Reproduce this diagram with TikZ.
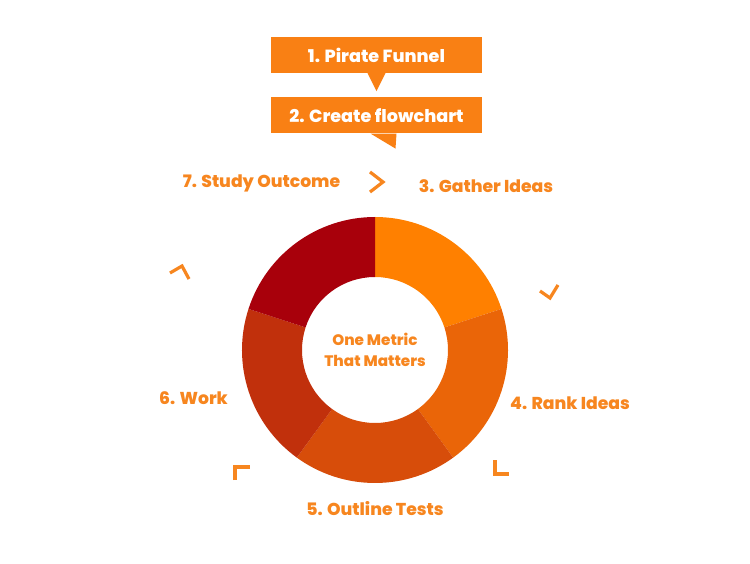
\documentclass[tikz,border=0pt]{standalone}
\usepackage{fontspec}
\setmainfont{Poppins}[BoldFont={Poppins ExtraBold}]
\usetikzlibrary{calc,positioning}
\definecolor{boxorange}{HTML}{F98014}
\definecolor{txtorange}{HTML}{F7861F}
\definecolor{segA}{HTML}{FF8000}
\definecolor{segB}{HTML}{EA6508}
\definecolor{segC}{HTML}{D74D0A}
\definecolor{segD}{HTML}{C1300C}
\definecolor{segE}{HTML}{A8000B}

\begin{document}
\begin{tikzpicture}[x=1pt,y=1pt
  ,box/.style={fill=boxorange,text=white,minimum width=211pt
    ,minimum height=36pt,inner sep=0pt
    ,font=\bfseries\fontsize{17.6}{20}\selectfont}
  ,stage/.style={text=txtorange,inner sep=0pt
    ,font=\bfseries\fontsize{17.2}{20}\selectfont}
  ,chev/.style={draw=txtorange,line width=3.2pt}]

  \fill[white] (0,0) rectangle (750,563);
  \useasboundingbox (0,0) rectangle (750,563);

  % callout boxes
  \node[box](pf) at (376.5,508) {1. Pirate Funnel};
  \node[box,below=24pt of pf](cf) {2. Create flowchart};
  \fill[boxorange] ($(pf.south)+(-9,0)$) -- ($(pf.south)+(0,-18)$)
    -- ($(pf.south)+(9,0)$) -- cycle;
  \fill[boxorange] ($(cf.south)+(-6,0)$) -- ($(cf.south)+(19,-15)$)
    -- ($(cf.south)+(20,0)$) -- cycle;

  % donut
  \coordinate (omtm) at (375,213);
  \foreach \a/\b/\c in {90/18/segA,18/-54/segB,-54/-126/segC,
    -126/-198/segD,-198/-270/segE}
    \fill[\c] ($(omtm)+(\a:133)$) arc[start angle=\a,end angle=\b,radius=133]
      -- ($(omtm)+(\b:73)$) arc[start angle=\b,end angle=\a,radius=73]
      -- cycle;
  \node[stage,align=center,font=\bfseries\fontsize{15.2}{21}\selectfont]
    (ctr) at (omtm) {One Metric\\That Matters};

  % stage labels
  \node[stage](gather) at (486,377) {3. Gather Ideas};
  \node[stage](rank) at (570,160) {4. Rank Ideas};
  \node[stage](outline) at (375,54) {5. Outline Tests};
  \node[stage](work) at (193.5,165) {6. Work};
  \node[stage](study) at (261.5,380) {7. Study Outcome};

  % chevrons
  \draw[chev] (370,391) -- (383,381) -- (370,371);
  \draw[chev] (170,290) -- (182,297) -- (189,284);
  \draw[chev] (540,272) -- (550,265) -- (558,278);
  \draw[chev] (495,103) -- (495,89) -- (509,89);
  \draw[chev] (235,83) -- (235,96) -- (250,96);
\end{tikzpicture}
\end{document}
